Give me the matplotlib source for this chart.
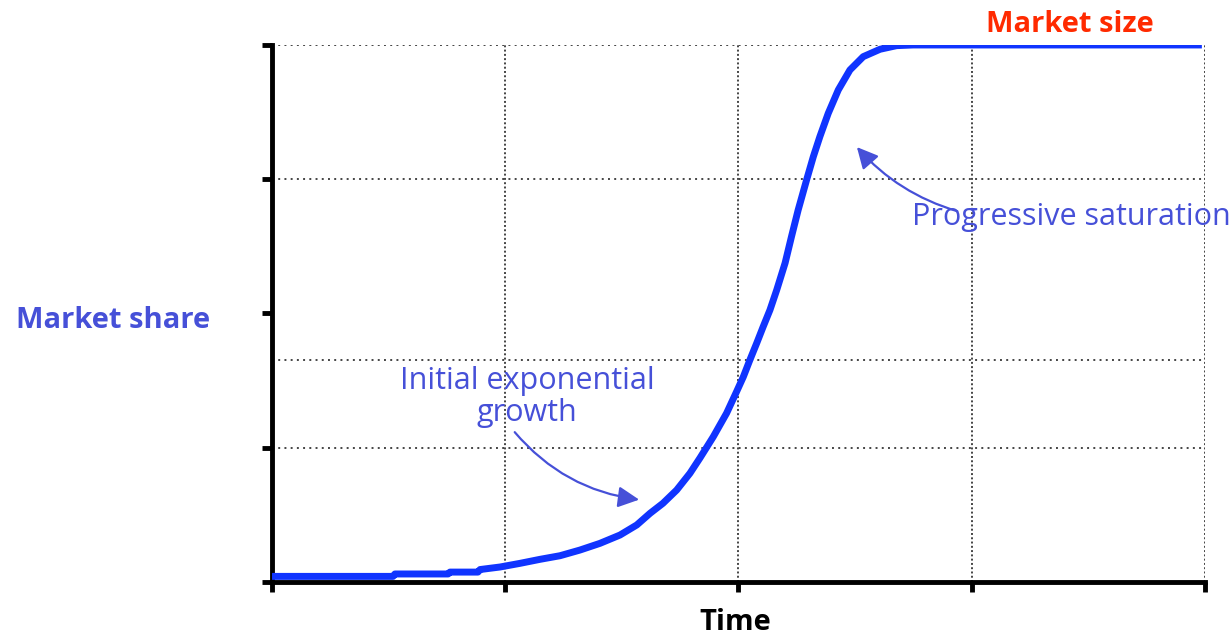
import matplotlib
matplotlib.use("Agg")
import matplotlib.pyplot as plt

plt.rcParams['font.family'] = ['Open Sans', 'DejaVu Sans']

# adoption curve (time units, share units)
time = [0.0, 0.519, 0.527, 0.755, 0.763, 0.883, 0.892, 0.978, 1.063, 1.149, 1.235,
        1.320, 1.406, 1.492, 1.564, 1.621, 1.676, 1.735, 1.792, 1.835, 1.892,
        1.949, 1.992, 2.021, 2.049, 2.078, 2.106, 2.135, 2.164, 2.200, 2.228,
        2.256, 2.292, 2.321, 2.349, 2.385, 2.428, 2.478, 2.535, 2.607, 2.678,
        2.749, 3.987]
share = [0.042, 0.042, 0.060, 0.060, 0.074, 0.074, 0.093, 0.112, 0.139, 0.169, 0.196,
         0.238, 0.288, 0.350, 0.425, 0.512, 0.586, 0.685, 0.810, 0.924, 1.082,
         1.257, 1.418, 1.529, 1.654, 1.778, 1.902, 2.026, 2.175, 2.376, 2.577,
         2.771, 2.994, 3.168, 3.317, 3.491, 3.665, 3.814, 3.913, 3.968, 3.995,
         4.0, 4.0]

x_ticks = [0, 1, 2, 3, 4]
y_ticks = [0, 1, 2, 3, 4]
x_grid = [1, 2, 3, 4]
y_grid = [1, 1.65, 3, 4]

note_color = '#4650D8'

fig = plt.figure(figsize=(12.32, 6.37), dpi=100)
ax = fig.add_axes([0.2208, 0.0863, 0.7572, 0.8431])
ax.set_xlim(0, 4)
ax.set_ylim(0, 4)

for gx in x_grid:
    ax.axvline(gx, color='#444444', lw=1.4, ls=(0, (1, 1.2)), zorder=1)
for gy in y_grid:
    ax.axhline(gy, color='#444444', lw=1.4, ls=(0, (1, 2.2)), zorder=1)

ax.plot(time, share, color='#1034FF', lw=5, solid_capstyle='butt',
        solid_joinstyle='round', zorder=3)

for s in ['top', 'right']:
    ax.spines[s].set_visible(False)
for s in ['left', 'bottom']:
    ax.spines[s].set_linewidth(3.5)
ax.set_xticks(x_ticks)
ax.set_yticks(y_ticks)
ax.set_xticklabels([])
ax.set_yticklabels([])
ax.tick_params(direction='out', length=7, width=3.5)

ax.text(1.093, 1.378, 'Initial exponential\ngrowth', color=note_color, fontsize=22,
        ha='center', va='center', linespacing=1.05)
ax.annotate('', xy=(1.586, 0.611), xytext=(1.033, 1.132),
            arrowprops=dict(arrowstyle='-|>', color=note_color, lw=1.6,
                            mutation_scale=32, connectionstyle='arc3,rad=0.2'))
ax.text(2.744, 2.719, 'Progressive saturation', color=note_color, fontsize=22,
        ha='left', va='center', clip_on=False)
ax.annotate('', xy=(2.50, 3.255), xytext=(2.95, 2.756),
            arrowprops=dict(arrowstyle='-|>', color=note_color, lw=1.6,
                            mutation_scale=32, connectionstyle='arc3,rad=-0.15'))
ax.text(3.421, 4.156, 'Market size', color='#FF2A00', fontsize=21, fontweight='bold',
        ha='center', va='center', clip_on=False)

fig.text(0.0917, 0.4976, 'Market share', color=note_color, fontsize=21,
         fontweight='bold', ha='center', va='center')
fig.text(0.5966, 0.022, 'Time', color='black', fontsize=21, fontweight='bold',
         ha='center', va='center')

fig.savefig('out.png', dpi=100)
